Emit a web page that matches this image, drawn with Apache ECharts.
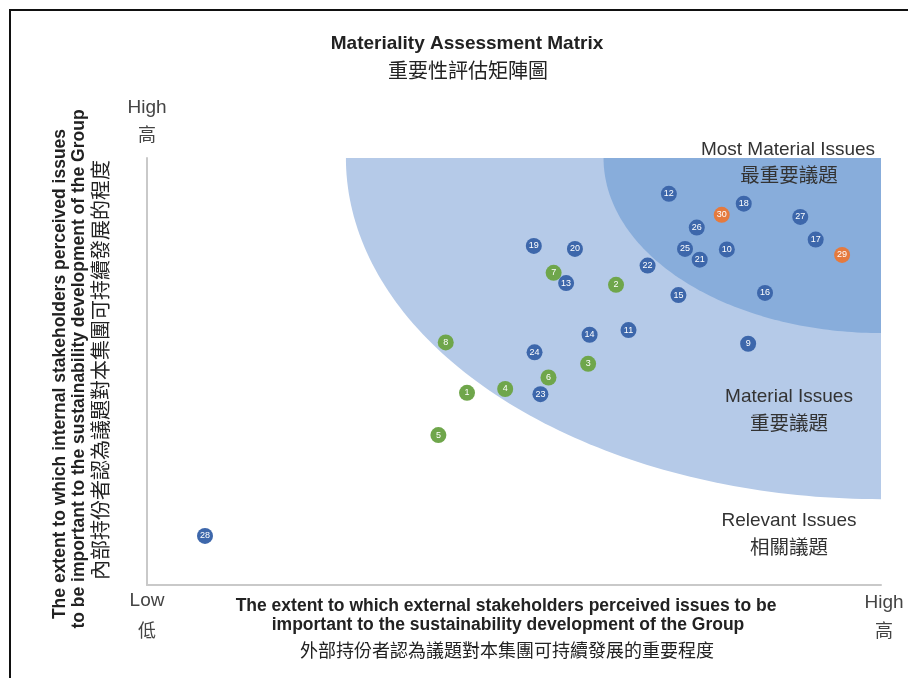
<!DOCTYPE html>
<html><head><meta charset="utf-8">
<script src="https://cdn.jsdelivr.net/npm/echarts@6/dist/echarts.min.js"></script>
<style>html,body{margin:0;padding:0;background:#fff}#c{width:908px;height:678px}</style>
</head><body><div id="c"></div>
<script>
// Issue numbers, positions (external importance x, internal importance y on 0-100), group
const issueIds = [1,2,3,4,5,6,7,8,9,10,11,12,13,14,15,16,17,18,19,20,21,22,23,24,25,26,27,28,29,30];
const externalScores = [43.6,63.9,60.1,48.8,39.7,54.7,55.4,40.7,81.9,79.0,65.6,71.1,57.1,60.3,72.4,84.2,91.1,81.3,52.7,58.3,75.3,68.2,53.6,52.8,73.3,74.9,89.0,7.9,94.7,78.3];
const internalScores = [45.0,70.3,51.8,45.9,35.1,48.6,73.1,56.8,56.5,78.6,59.7,91.6,70.7,58.6,67.9,68.4,80.9,89.3,79.4,78.7,76.2,74.8,44.7,54.5,78.7,83.7,86.2,11.5,77.3,86.7];
const issueGroups = ['g','g','g','g','g','g','g','g','b','b','b','b','b','b','b','b','b','b','b','b','b','b','b','b','b','b','b','b','o','o'];
// Zones: ellipse radii from top-right corner (x radius, y radius) in data units
const zoneNames = ['Material Issues','Most Material Issues'];
const zoneRadiusX = [72.9, 37.8];
const zoneRadiusY = [79.9, 41.0];

const groupColor = {b:'#3d67ab', g:'#6fa64b', o:'#e57a3e'};
const zoneColor = ['#b5cae8','#88addb'];

const chart = echarts.init(document.getElementById('c'), null, {renderer:'canvas'});
const pts = issueIds.map((id,i)=>({value:[externalScores[i], internalScores[i], id], itemStyle:{color:groupColor[issueGroups[i]], opacity:1}}));
const zoneData = zoneNames.map((n,i)=>[zoneRadiusX[i], zoneRadiusY[i], i]);

const sans = 'Liberation Sans, Arial, Helvetica, sans-serif';
const cjk = '"Noto Sans CJK TC", sans-serif';
function txt(x,y,text,size,weight,font,rot,color){
  return {type:'text', x:x, y:y, rotation:rot||0, style:{text:text, fontSize:size, fontWeight:weight||'normal', fontFamily:font||sans, fill:color||'#222', textAlign:'center', textVerticalAlign:'middle'}, z:100};
}

chart.setOption({
  animation:false,
  grid:{left:147, right:27, top:158, bottom:93},
  xAxis:{type:'value', min:0, max:100, axisLabel:{show:false}, axisTick:{show:false}, splitLine:{show:false},
    axisLine:{lineStyle:{color:'#c9c9c9', width:2}}},
  yAxis:{type:'value', min:0, max:100, axisLabel:{show:false}, axisTick:{show:false}, splitLine:{show:false},
    axisLine:{lineStyle:{color:'#c9c9c9', width:2}}},
  series:[
    {type:'custom', data:zoneData, z:1, clip:true,
      renderItem:function(params, api){
        const rx = api.value(0), ry = api.value(1), idx = api.value(2);
        const pts = [api.coord([100,100])];
        for(let k=0;k<=90;k++){
          const t = k*Math.PI/180;
          pts.push(api.coord([100 - rx*Math.cos(t), 100 - ry*Math.sin(t)]));
        }
        return {type:'polygon', shape:{points:pts}, style:{fill:zoneColor[idx]}};
      }},
    {type:'scatter', data:pts, symbolSize:16, z:5, itemStyle:{opacity:1},
      label:{show:true, position:'inside', formatter:p=>p.value[2], color:'#fff', fontSize:9, fontFamily:sans}}
  ],
  graphic:[
    {type:'line', shape:{x1:9, y1:10, x2:908, y2:10}, style:{stroke:'#111', lineWidth:2}},
    {type:'line', shape:{x1:10, y1:10, x2:10, y2:678}, style:{stroke:'#111', lineWidth:2}},
    txt(467,44,'Materiality Assessment Matrix',19,'bold'),
    txt(468,70,'重要性評估矩陣圖',20,'normal',cjk),
    txt(147,108,'High',19,'normal',sans,0,'#444'),
    txt(147,134,'高',18,'normal',cjk,0,'#444'),
    txt(147,601,'Low',19,'normal',sans,0,'#444'),
    txt(147,630,'低',18,'normal',cjk,0,'#444'),
    txt(884,603,'High',19,'normal',sans,0,'#444'),
    txt(884,630,'高',18,'normal',cjk,0,'#444'),
    txt(788,150,'Most Material Issues',19,'normal',sans,0,'#333'),
    txt(789,175,'最重要議題',19.5,'normal',cjk,0,'#333'),
    txt(789,397,'Material Issues',19,'normal',sans,0,'#333'),
    txt(789,423,'重要議題',19.5,'normal',cjk,0,'#333'),
    txt(789,521,'Relevant Issues',19,'normal',sans,0,'#333'),
    txt(789,547,'相關議題',19.5,'normal',cjk,0,'#333'),
    txt(506,606,'The extent to which external stakeholders perceived issues to be',17.5,'bold'),
    txt(508,625,'important to the sustainability development of the Group',17.5,'bold'),
    txt(507,650,'外部持份者認為議題對本集團可持續發展的重要程度',18,'normal',cjk),
    txt(60,374,'The extent to which internal stakeholders perceived issues',17.5,'bold',sans,Math.PI/2),
    txt(79,369,'to be important to the sustainability development of the Group',17.5,'bold',sans,Math.PI/2),
    txt(100,370,'內部持份者認為議題對本集團可持續發展的程度',20,'normal',cjk,Math.PI/2)
  ]
});
</script></body></html>
